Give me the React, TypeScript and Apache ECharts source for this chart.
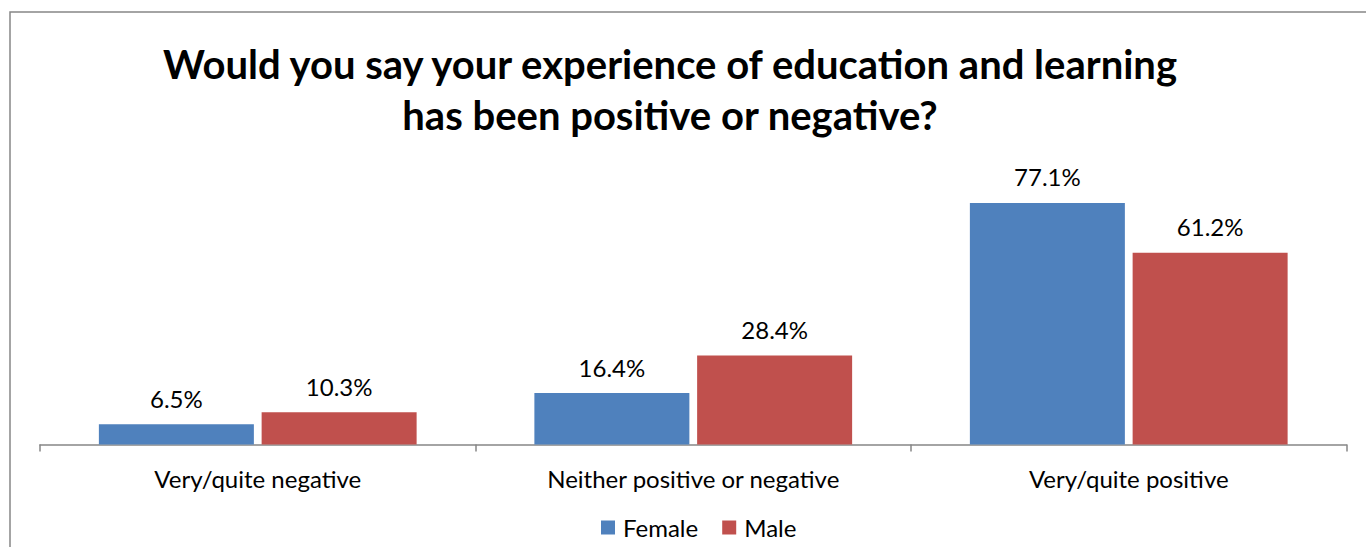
import React, { useEffect, useRef } from "react";
import * as echarts from "echarts";

const categories = ["Very/quite negative", "Neither positive or negative", "Very/quite positive"];
const femaleValues = [6.5, 16.4, 77.1];
const maleValues = [10.3, 28.4, 61.2];
const seriesNames = ["Female", "Male"];
const titleText = "Would you say your experience of education and learning\nhas been positive or negative?";

const FONT = "Lato, 'Open Sans', sans-serif";

export default function App() {
  const ref = useRef<HTMLDivElement>(null);
  useEffect(() => {
    const chart = echarts.init(ref.current!, null, { renderer: "svg" });
    const label = {
      show: true,
      position: "top" as const,
      distance: 14,
      color: "#000",
      fontFamily: FONT,
      fontSize: 24,
      formatter: (p: any) => p.value.toFixed(1) + "%",
    };
    chart.setOption({
      animation: false,
      backgroundColor: "#fff",
      title: {
        text: titleText,
        left: 665,
        top: 33,
        textAlign: "center",
        textStyle: {
          fontFamily: FONT,
          fontWeight: "bold",
          fontSize: 40,
          lineHeight: 51,
          color: "#000",
        },
      },
      graphic: [
        {
          type: "rect",
          shape: { x: 10, y: 12, width: 1500, height: 700 },
          style: { fill: "none", stroke: "#878787", lineWidth: 1.5 },
          silent: true,
        },
      ],
      legend: {
        data: seriesNames,
        left: 596,
        top: 510.5,
        icon: "rect",
        itemWidth: 14,
        itemHeight: 14,
        itemGap: 24,
        textStyle: { fontFamily: FONT, fontSize: 24, color: "#000", padding: [0, 0, 0, 3] },
      },
      grid: { left: 40, right: 19.5, top: 162.5, bottom: 102.5 },
      xAxis: {
        type: "category",
        data: categories,
        axisLine: { lineStyle: { color: "#868686", width: 1.5 } },
        axisTick: { show: true, length: 7, lineStyle: { color: "#868686", width: 1.5 } },
        axisLabel: { color: "#000", fontFamily: FONT, fontSize: 24, margin: 22 },
      },
      yAxis: {
        type: "value",
        min: 0,
        max: 90,
        show: false,
        splitLine: { show: false },
      },
      series: [
        {
          name: seriesNames[0],
          type: "bar",
          data: femaleValues,
          barWidth: 155,
          barGap: "5%",
          itemStyle: { color: "#4F81BD" },
          label,
        },
        {
          name: seriesNames[1],
          type: "bar",
          data: maleValues,
          barWidth: 155,
          barGap: "5%",
          itemStyle: { color: "#C0504D" },
          label,
        },
      ],
    });
    return () => chart.dispose();
  }, []);
  return (
    <div
      ref={ref}
      style={{ position: "fixed", left: 0, top: 0, width: 1366, height: 547 }}
    />
  );
}
